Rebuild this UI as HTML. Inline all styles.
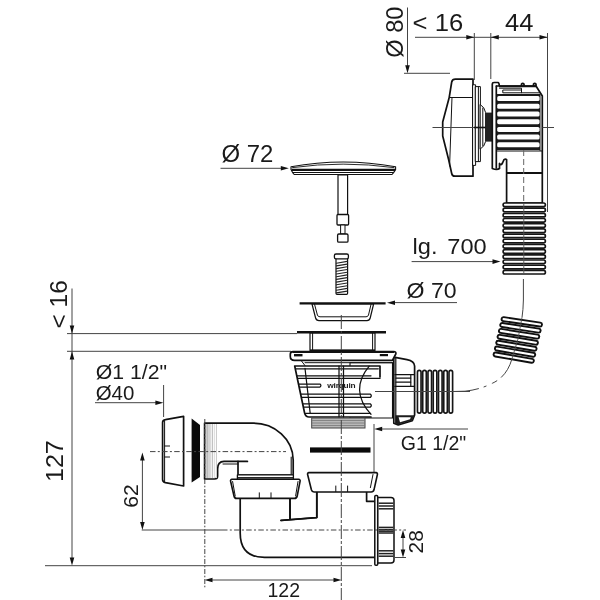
<!DOCTYPE html>
<html lang="fr">
<head>
<meta charset="utf-8">
<title>Schéma technique</title>
<style>
html,body{margin:0;padding:0;background:#fff;}
body{width:600px;height:600px;overflow:hidden;}
svg{display:block;width:600px;height:600px;filter:blur(.45px);}
text{font-family:"Liberation Sans",sans-serif;fill:#1a1a1a;}
.t{stroke:#444;stroke-width:1;fill:none;}
.tc{stroke:#444;stroke-width:1;fill:none;stroke-dasharray:5.5 2.3 2 2.3;}
.tv{stroke:#444;stroke-width:1;fill:none;stroke-dasharray:14 2 3 2;}
.td{stroke:#666;stroke-width:1;fill:none;stroke-dasharray:6 3;}
.o{stroke:#111;stroke-width:1.7;fill:#fff;stroke-linejoin:round;stroke-linecap:round;}
.on{stroke:#111;stroke-width:1.7;fill:none;stroke-linejoin:round;stroke-linecap:round;}
.m{stroke:#111;stroke-width:1;fill:none;stroke-linecap:round;}
.k{stroke:#111;stroke-width:2.2;fill:none;}
.a{fill:#111;stroke:none;}
.b{fill:#111;stroke:#111;stroke-width:1;}
</style>
</head>
<body>
<svg viewBox="0 0 600 600" width="600" height="600">
<rect width="600" height="600" fill="#fff"/>

<!-- ===== DIMENSIONS ===== -->
<g id="dims">
<!-- D80 -->
<text transform="translate(402.5,57.8) rotate(-90) scale(1.03,1)" font-size="23">Ø 80</text>
<path class="t" d="M407.5 7.5V70M404 73.3H450"/>
<path class="a" d="M407.5 73.3l-2.3-8h4.6z"/>
<!-- <16 / 44 -->
<text transform="translate(412.6,31.3) scale(1.115,1)" font-size="23">&lt; 16</text>
<text transform="translate(505,31.3) scale(1.11,1)" font-size="23">44</text>
<path class="t" d="M415 37.3H547M474.3 33V80M490.8 33V79M547.5 33V212"/>
<path class="a" d="M474.3 37.3l-8-2.3v4.6zM490.8 37.3l8-2.3v4.6zM547.5 37.3l-8-2.3v4.6z"/>
<!-- D72 -->
<text transform="translate(221.5,162) scale(1.04,1)" font-size="23">Ø 72</text>
<path class="t" d="M220.5 168.3H285"/>
<path class="a" d="M288.8 168.3l-8-2.3v4.6z"/>
<!-- lg 700 -->
<text transform="translate(412.5,253.6) scale(1.075,1)" font-size="22" style="word-spacing:3px">lg. 700</text>
<path class="t" d="M411.6 261.6H496"/>
<path class="a" d="M500.5 261.6l-8-2.3v4.6z"/>
<!-- D70 -->
<text transform="translate(406.6,298.4) scale(1.075,1)" font-size="21.5">Ø 70</text>
<path class="t" d="M390 302.6H457"/>
<path class="a" d="M387 302.8l8-2.3v4.6z"/>
<!-- left <16, 127 -->
<text transform="translate(66.7,328.5) rotate(-90) scale(1.065,1)" font-size="23">&lt; 16</text>
<text transform="translate(63.3,482) rotate(-90) scale(1.09,1)" font-size="23">127</text>
<path class="t" d="M72 288.5V562M67 333.6H297M67 351.3H291M45 565.7H372"/>
<path class="a" d="M72 333.4l-2.3-8h4.6zM72 351.5l-2.3 8h4.6zM72 565.5l-2.3-8h4.6z"/>
<!-- D1 1/2, D40 -->
<text transform="translate(95.7,378.5) scale(1.09,1)" font-size="19.5">Ø1 1/2"</text>
<text transform="translate(95.7,399.5) scale(1.05,1)" font-size="19.5">Ø40</text>
<path class="t" d="M95 402.7H160M163.6 385V417"/>
<path class="a" d="M163.4 402.7l-8-2.3v4.6z"/>
<!-- 62 -->
<text transform="translate(138.3,507.7) rotate(-90) scale(1.085,1)" font-size="19.5">62</text>
<path class="t" d="M142.4 456V526M141.7 530H222"/>
<path class="a" d="M142.4 452.4l-2.3 8h4.6zM142.4 530l-2.3-8h4.6z"/>
<!-- 122 -->
<text x="267.5" y="597" font-size="19.5">122</text>
<path class="t" d="M208 580H338"/>
<path class="a" d="M204.5 580l8-2.3v4.6zM341.5 580l-8-2.3v4.6z"/>
<!-- 28 -->
<text transform="translate(422.5,553.5) rotate(-90) scale(1.075,1)" font-size="19.5">28</text>
<path class="t" d="M403 533V554M395 557.5H406"/>
<path class="a" d="M403 530l-2.3 8h4.6zM403 557.5l-2.3-8h4.6z"/>
<!-- G1 1/2 -->
<text x="400.8" y="450" font-size="19.5">G1 1/2"</text>
<path class="t" d="M378 429H468M374 424V482.5"/>
<path class="a" d="M374.2 429l8-2.3v4.6z"/>
</g>

<!-- PARTS_BEGIN -->
<g id="plug">
<path class="o" style="stroke-width:1.1" d="M291 166.8Q343 157.2 395.6 166.8L395.6 169.6L393.6 172.6L392 174.5H294.2L292.6 172.6L291 169.6Z"/>
<path class="m" d="M292.5 167.6Q343 160.6 394 167.6" style="stroke-width:.9"/>
<path class="k" style="stroke-width:2.2" d="M291.6 169.9H395"/>
<path class="m" d="M292.8 172.5H393.4"/>
<rect class="o" x="338" y="175" width="9.6" height="39.5" style="stroke-width:1.2"/>
<rect class="o" x="337" y="214.5" width="11.6" height="10.5" rx="1" style="stroke-width:1.3"/>
<rect class="o" x="341" y="225" width="4" height="9" style="stroke-width:1"/>
<rect class="o" x="337.6" y="234" width="10.4" height="8.2" rx="1.2" style="stroke-width:1.3"/>
</g>
<g id="screw">
<rect class="o" x="336" y="257" width="11.6" height="37.3" rx="1" style="stroke-width:1.2"/>
<path class="m" style="stroke-width:1.15;stroke:#222" d="M336.4 263.2 L347.2 261.4"/>
<path class="m" style="stroke-width:1.15;stroke:#222" d="M336.4 265.9 L347.2 264.1"/>
<path class="m" style="stroke-width:1.15;stroke:#222" d="M336.4 268.6 L347.2 266.8"/>
<path class="m" style="stroke-width:1.15;stroke:#222" d="M336.4 271.3 L347.2 269.5"/>
<path class="m" style="stroke-width:1.15;stroke:#222" d="M336.4 274 L347.2 272.2"/>
<path class="m" style="stroke-width:1.15;stroke:#222" d="M336.4 276.7 L347.2 274.9"/>
<path class="m" style="stroke-width:1.15;stroke:#222" d="M336.4 279.4 L347.2 277.6"/>
<path class="m" style="stroke-width:1.15;stroke:#222" d="M336.4 282.1 L347.2 280.3"/>
<path class="m" style="stroke-width:1.15;stroke:#222" d="M336.4 284.8 L347.2 283"/>
<path class="m" style="stroke-width:1.15;stroke:#222" d="M336.4 287.5 L347.2 285.7"/>
<path class="m" style="stroke-width:1.15;stroke:#222" d="M336.4 290.2 L347.2 288.4"/>
<path class="m" style="stroke-width:1.15;stroke:#222" d="M336.4 292.9 L347.2 291.1"/>
<rect class="o" x="334.4" y="254" width="14" height="4.8" rx="1.6" style="stroke-width:1.3"/>
</g>
<g id="cup">
<path class="o" style="stroke-width:1.2" d="M312 304L315.6 318Q316.2 320.6 319 320.6H367Q369.6 320.6 370.2 318L373.6 304Z"/>
<path class="m" d="M314.6 304.5L317.4 315Q317.9 316.8 320 316.8H366Q368 316.8 368.5 315L371 304.5"/>
<path class="k" style="stroke-width:2.2" d="M299.6 303.4H385.6"/>
</g>
<g id="body">
<rect class="o" x="310" y="333" width="65" height="17.4" style="stroke-width:1.2"/>
<path class="m" d="M312.6 333V350M372.6 333V350"/>
<path class="k" style="stroke-width:2.6" d="M297 332.2H386"/>
<path class="k" style="stroke-width:2" d="M310 350.6H375"/>
<path class="o" d="M393.8 357.2L407 359.7Q414.2 361 414.6 366V415L412.3 420.8L398.2 425L393.8 423.2Z"/>
<path d="M395.5 415.3H414.2L412.2 420.4L398.2 424.6L395.5 423.4Z" fill="#1c1c1c"/>
<path d="M398.6 417.3H410.8L410 419.2L400 422.2Z" fill="#fff"/>
<path class="on" style="stroke-width:1.2" d="M395 374.7H414M395 386.4H414M410.8 375V386.4"/>
<path class="on" style="stroke-width:1.3" d="M396 378.2H410.6M396 382.2H410.6"/>
<path class="o" style="stroke-width:1.1" d="M350 362.7H392.5V418H350Z"/>
<path class="on" style="stroke-width:1.2" d="M395.8 358V423"/>
<path class="o" d="M293 351.6H393.6Q396.6 351.6 395.8 354L392.4 360.4H294.6Q290.3 360.4 290.3 356.5V354.2Q290.3 351.6 293 351.6Z"/>
<path class="k" style="stroke-width:2.1" d="M292.5 352H394"/>
<rect x="294" y="354" width="8.5" height="2.4" fill="#111"/>
<rect x="379.8" y="354" width="8.2" height="2.2" fill="#111"/>
<path class="m" d="M305 362.7H392.5M301.5 361L305 365.6"/>
<path d="M294.7 366H380V377H373V417H309Q305.6 417 304.6 413Z" fill="#fff" stroke="none"/>
<path class="on" d="M371 417H309Q305.6 417 304.6 413L294.7 366H380V377"/>
<path class="m" style="stroke-width:1.2" d="M305 368.4L310.2 413.4"/>
<path class="on" style="stroke-width:1.25" d="M296 368.8H378.3M297 375.8H371M297.6 378.4H380M299 384H320Q321.8 385.5 320 387H299.6"/>
<path class="on" style="stroke-width:1.25" d="M301 394H370.2Q372.4 395.7 370.2 397.4H301.8M303 403.8H370.2Q372.4 405.5 370.2 407.2H303.6M304.6 413.4H370.6"/>
<path class="on" style="stroke-width:1.2" d="M369.2 366.2Q349 390.5 371 414.4"/>
<path class="m" style="stroke-width:1.25" d="M339 366V417M343.5 366V417"/>
<text transform="translate(327.3,388.4) scale(1.1,1)" font-size="7.6" font-weight="bold" style="letter-spacing:-.2px">wirquin</text>
<rect x="311.7" y="418" width="53.3" height="10" fill="#b8b8b8" stroke="#444" stroke-width="1"/>
<path d="M312 420.5H365M312 423H365M312 425.5H365" stroke="#777" stroke-width=".8" fill="none"/>
<rect x="310" y="447.4" width="60.5" height="5.2" fill="#0a0a0a"/>
</g>
<g id="connh">
<rect x="417.45" y="370.4" width="3.6" height="42.7" rx="1.8" fill="#fff" stroke="#161616" stroke-width="1.65"/>
<rect x="422.71" y="370.4" width="3.6" height="42.7" rx="1.8" fill="#fff" stroke="#161616" stroke-width="1.65"/>
<rect x="427.97" y="370.4" width="3.6" height="42.7" rx="1.8" fill="#fff" stroke="#161616" stroke-width="1.65"/>
<rect x="433.23" y="370.4" width="3.6" height="42.7" rx="1.8" fill="#fff" stroke="#161616" stroke-width="1.65"/>
<rect x="438.49" y="370.4" width="3.6" height="42.7" rx="1.8" fill="#fff" stroke="#161616" stroke-width="1.65"/>
<rect x="443.75" y="370.4" width="3.6" height="42.7" rx="1.8" fill="#fff" stroke="#161616" stroke-width="1.65"/>
<rect x="449.01" y="370.4" width="3.6" height="42.7" rx="1.8" fill="#fff" stroke="#161616" stroke-width="1.65"/>
<path class="t" d="M375 391.5H470"/>
</g>
<g id="hoset">
<g transform="translate(500.7,318.7) rotate(8.5)"><rect x="0.9" y="-2" width="40.8" height="4" rx="2" fill="#fff" stroke="#111" stroke-width="1.9"/></g>
<g transform="translate(499.37,324.58) rotate(8.73)"><rect x="0.9" y="-2" width="40.8" height="4" rx="2" fill="#fff" stroke="#111" stroke-width="1.9"/></g>
<g transform="translate(498.04,330.46) rotate(8.96)"><rect x="0.9" y="-2" width="40.8" height="4" rx="2" fill="#fff" stroke="#111" stroke-width="1.9"/></g>
<g transform="translate(496.71,336.34) rotate(9.19)"><rect x="0.9" y="-2" width="40.8" height="4" rx="2" fill="#fff" stroke="#111" stroke-width="1.9"/></g>
<g transform="translate(495.38,342.22) rotate(9.42)"><rect x="0.9" y="-2" width="40.8" height="4" rx="2" fill="#fff" stroke="#111" stroke-width="1.9"/></g>
<g transform="translate(494.05,348.1) rotate(9.65)"><rect x="0.9" y="-2" width="40.8" height="4" rx="2" fill="#fff" stroke="#111" stroke-width="1.9"/></g>
<g transform="translate(492.72,353.98) rotate(9.88)"><rect x="0.9" y="-2" width="40.8" height="4" rx="2" fill="#fff" stroke="#111" stroke-width="1.9"/></g>
<path class="t" d="M523.4 279V300Q523.2 310 522 317.5"/>
<path class="t" style="stroke-width:.8" d="M522 317.5Q519 340 512 358.7"/>
<path class="t" style="stroke-dasharray:22 5 6 6 3 5 60" d="M512 358.7Q507 376.5 492.5 383.2Q480 389.6 465 391.2L453 391.5"/>
</g>
<g id="left">
<path class="o" d="M165.4 419.6L183.6 416.4V486L165.4 482.6Q162.6 482 162.6 479.5V422.6Q162.6 420 165.4 419.6Z"/>
<path class="m" d="M164.6 421V481.6M164.6 446H169.6M164.6 457H169.6"/>
<path d="M191.6 418.4L200 425V477L191.6 482.4Z" fill="#0a0a0a"/>
<path class="o" d="M204.6 423.2H253A40 37 0 0 1 293.2 460V475H238V461.4H224Q217.6 461.6 217.6 469V476Q217.6 479 214.6 479H204.6Z"/>
<path class="on" style="stroke-width:1.1" d="M291.2 457V475" />
<path class="on" d="M238 461.4H247.4"/>
<path class="m" d="M223 464H238"/>
<path d="M206 424V478" stroke="#999" stroke-width="1" fill="none"/>
<path d="M207.5 424V478" stroke="#bbb" stroke-width="1" fill="none"/>
<path d="M209 424V478" stroke="#aaa" stroke-width="1" fill="none"/>
<path d="M210.8 424V478" stroke="#ccc" stroke-width="1" fill="none"/>
<path d="M212.6 424V478" stroke="#bbb" stroke-width="1" fill="none"/>
<path d="M214.6 424V478" stroke="#ddd" stroke-width="1" fill="none"/>
<path d="M216.5 424V478" stroke="#ccc" stroke-width="1" fill="none"/>
</g>
<g id="trap">
<path class="o" d="M240.2 497V533Q240.2 557.4 264.5 557.4H375.5V501.3H366.6V491H316.8V517.5L281 520.5M290 497V519.6" />
<path class="on" d="M316.8 491V517.6L281 520.4M290 498V519.6"/>
<rect class="o" x="237.4" y="474.8" width="56" height="4.4" style="stroke-width:1.3"/><path class="m" d="M237.4 477.6H293.4"/>
<path class="o" style="stroke-width:1.6" d="M232 479.3H298.6Q300.4 479.5 300.1 481.2L297.2 496Q296.8 498.4 294.4 498.4H236.6Q234.4 498.4 234 496L230.6 481.2Q230.3 479.5 232 479.3Z"/><path class="m" d="M232.6 481.5L235.2 496M298 481.5L295.6 496"/>
<path class="m" d="M259.3 492.8V498M271 492.8V498"/>
<path class="o" style="stroke-width:1.6" d="M309 472.6H376Q377.8 472.8 377.4 474.5L374 489.8Q373.4 492 371.2 492H314Q312 492 311.4 489.8L307.6 474.5Q307.2 472.8 309 472.6Z"/>
<path class="m" d="M373 474.5L370.4 487.6M335.8 486V491.6M347.6 486V491.6"/>
<rect class="o" x="374.8" y="495.6" width="2.9" height="69.6" rx="1" style="stroke-width:1.5"/>
<path class="o" style="stroke-width:1.5" d="M377.8 497.4H391Q394 497.4 394 500.4V560Q394 563 391 563H377.8Z"/>
<path d="M378.6 503.2H393.4" stroke="#222" stroke-width="1.5" fill="none"/>
<path d="M378.6 506H393.4" stroke="#222" stroke-width="1.5" fill="none"/>
<path d="M378.6 508.8H393.4" stroke="#222" stroke-width="1.5" fill="none"/>
<path d="M378.6 527.4H393.4" stroke="#222" stroke-width="1.5" fill="none"/>
<path d="M378.6 529.6H393.4" stroke="#222" stroke-width="1.5" fill="none"/>
<path d="M378.6 531.2H393.4" stroke="#222" stroke-width="1.5" fill="none"/>
<path d="M378.6 533H393.4" stroke="#222" stroke-width="1.5" fill="none"/>
<path d="M378.6 550.8H393.4" stroke="#222" stroke-width="1.5" fill="none"/>
<path d="M378.6 553.6H393.4" stroke="#222" stroke-width="1.5" fill="none"/>
<path d="M378.6 556.2H393.4" stroke="#222" stroke-width="1.5" fill="none"/>
</g>
<g id="overflow">
<path class="o" d="M455.5 79.2H473V176.2H454.8Q452.2 176.2 451.7 173.5L448.6 159.5L442.7 136V122L449.2 97.5L451.7 82Q452.3 79.2 455.5 79.2Z"/>
<path class="m" d="M449.2 97.5H473M452 97.5L449.6 166"/>
<rect class="o" x="473" y="84.8" width="2.6" height="80.6" style="stroke-width:1"/>
<rect class="o" x="475.6" y="86.6" width="4.8" height="75" style="stroke-width:1"/>
<path class="m" d="M478.4 87V161.5"/>
<path class="o" style="stroke-width:1" d="M480.4 104.6Q484.6 107 485.6 112.5V141.5Q484.6 146.5 480.4 149Z"/>
<path class="m" d="M482.8 108V146"/>
<path class="k" style="stroke-width:1.6" d="M474 127.5H486"/>
<rect x="485.6" y="112.6" width="6.6" height="29" fill="#222"/>
<path class="o" d="M496.5 86H536L542.3 96V203H506.6V159.6Q505.5 158.6 504 159.6L502.5 163Q501 166 499.5 163.5V168.5Q497 170.3 492.3 168.5V84Q492.3 82.5 494 82.5H498Q499.3 83 499.3 86"/>
<path class="on" d="M496.3 86V168"/>
<path class="on" d="M521.5 86V84Q522.7 82.6 524 84V86M533.5 86V84Q534.7 82.6 536 84V86"/>
<path class="m" d="M499.5 88.2H521.5V92.8H502.8V90H521.5M521.5 92.8H539.5"/>
<rect x="497" y="94" width="43.5" height="57" fill="#1a1a1a"/>
<rect x="497.2" y="96.1" width="42.4" height="5" rx="1.6" fill="#fff"/>
<rect x="497.2" y="103.8" width="42.4" height="5" rx="1.6" fill="#fff"/>
<rect x="497.2" y="111.5" width="42.4" height="5" rx="1.6" fill="#fff"/>
<rect x="497.2" y="119.2" width="42.4" height="5" rx="1.6" fill="#fff"/>
<rect x="497.2" y="126.9" width="42.4" height="5" rx="1.6" fill="#fff"/>
<rect x="497.2" y="134.6" width="42.4" height="5" rx="1.6" fill="#fff"/>
<rect x="497.2" y="142.3" width="42.4" height="5" rx="1.6" fill="#fff"/>
<rect x="497.2" y="150" width="42.4" height="1.4" fill="#fff"/>
<path class="k" style="stroke-width:2" d="M499 86.3H536"/>
<path class="k" style="stroke-width:1.8" d="M506.3 173H542.3"/>
<path class="m" d="M497 151H542"/>
</g>
<g id="hosev">
<rect x="503.1" y="202.95" width="42.3" height="3.6" rx="1.8" fill="#fff" stroke="#161616" stroke-width="1.65"/>
<rect x="503.1" y="208.14" width="42.3" height="3.6" rx="1.8" fill="#fff" stroke="#161616" stroke-width="1.65"/>
<rect x="503.1" y="213.33" width="42.3" height="3.6" rx="1.8" fill="#fff" stroke="#161616" stroke-width="1.65"/>
<rect x="503.1" y="218.52" width="42.3" height="3.6" rx="1.8" fill="#fff" stroke="#161616" stroke-width="1.65"/>
<rect x="503.1" y="223.71" width="42.3" height="3.6" rx="1.8" fill="#fff" stroke="#161616" stroke-width="1.65"/>
<rect x="503.1" y="228.9" width="42.3" height="3.6" rx="1.8" fill="#fff" stroke="#161616" stroke-width="1.65"/>
<rect x="503.1" y="234.09" width="42.3" height="3.6" rx="1.8" fill="#fff" stroke="#161616" stroke-width="1.65"/>
<rect x="503.1" y="239.28" width="42.3" height="3.6" rx="1.8" fill="#fff" stroke="#161616" stroke-width="1.65"/>
<rect x="503.1" y="244.47" width="42.3" height="3.6" rx="1.8" fill="#fff" stroke="#161616" stroke-width="1.65"/>
<rect x="503.1" y="249.66" width="42.3" height="3.6" rx="1.8" fill="#fff" stroke="#161616" stroke-width="1.65"/>
<rect x="503.1" y="254.85" width="42.3" height="3.6" rx="1.8" fill="#fff" stroke="#161616" stroke-width="1.65"/>
<rect x="503.1" y="260.04" width="42.3" height="3.6" rx="1.8" fill="#fff" stroke="#161616" stroke-width="1.65"/>
<rect x="503.1" y="265.23" width="42.3" height="3.6" rx="1.8" fill="#fff" stroke="#161616" stroke-width="1.65"/>
<rect x="503.1" y="270.42" width="42.3" height="3.6" rx="1.8" fill="#fff" stroke="#161616" stroke-width="1.65"/>
<path d="M523.8 204V274" stroke="#555" stroke-width=".9" fill="none"/>
</g>
<!-- PARTS_END -->
<g id="centre">
<!-- overflow centre line -->
<path class="t" d="M432.5 127.5H474M542.5 127.5H554"/>
<!-- centre lines -->
<path class="tv" d="M341.3 315V600"/>
<path class="tc" style="stroke-dasharray:5 1.7 1.6 1.7" d="M204.8 419V588"/>
<path class="tc" d="M150 451.6H286"/>
<path class="tc" d="M222 530H406"/>
<path class="td" d="M523.7 150V202"/>
</g>

</svg>
</body>
</html>
